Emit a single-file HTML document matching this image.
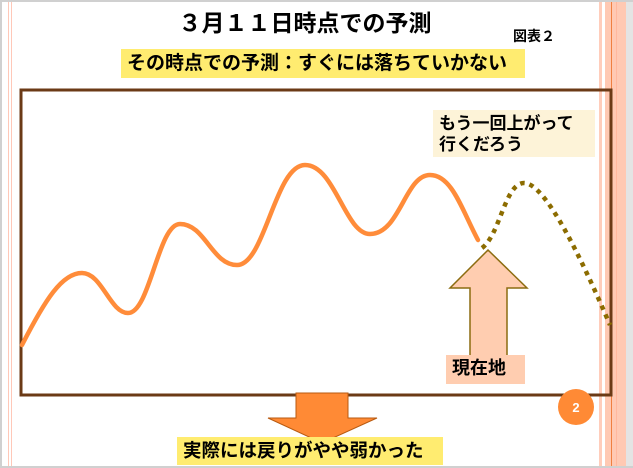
<!DOCTYPE html>
<html><head><meta charset="utf-8"><style>
body{margin:0;width:633px;height:468px;overflow:hidden;background:#fff;position:relative;font-family:"Liberation Sans","Noto Sans CJK JP",sans-serif;}
.a{position:absolute;white-space:nowrap;}
</style></head><body>
<div class="a" style="left:0;top:0;width:633px;height:2px;background:#d0d0d0"></div>
<div class="a" style="left:0;top:466px;width:633px;height:2px;background:#d0d0d0"></div>
<div class="a" style="left:0;top:0;width:2px;height:468px;background:#d0d0d0"></div>
<div class="a" style="left:8px;top:2px;width:1px;height:464px;background:#ffc8b8"></div>
<div class="a" style="left:11px;top:2px;width:1px;height:464px;background:#ffc8b8"></div>
<div class="a" style="left:599px;top:2px;width:3px;height:464px;background:#ffcdbb"></div>
<div class="a" style="left:605px;top:2px;width:21px;height:464px;background:#ffc9b3"></div>
<div class="a" style="left:611px;top:2px;width:1px;height:464px;background:#f08040"></div>
<div class="a" style="left:616px;top:2px;width:1px;height:464px;background:#ffb89e"></div>
<div class="a" style="left:626px;top:2px;width:7px;height:464px;background:#e4e4e4"></div>

<div class="a" style="left:130px;top:8px;width:350px;text-align:center;font-size:23px;font-weight:bold;line-height:30px">３月１１日時点での予測</div>
<div class="a" style="left:513px;top:26px;font-size:14px;font-weight:bold">図表２</div>
<div class="a" style="left:121px;top:49px;width:404px;height:29px;background:#ffec70;font-size:19px;font-weight:bold;line-height:29px;padding-left:6px;box-sizing:border-box">その時点での予測：すぐには落ちていかない</div>
<div class="a" style="left:433px;top:110px;width:162px;height:47px;background:#fdf3d8;font-size:17px;font-weight:bold;line-height:21px;padding:3px 0 0 6px;box-sizing:border-box">もう一回上がって<br>行くだろう</div>

<svg class="a" style="left:0;top:0" width="633" height="468">
<rect x="21" y="90" width="590" height="305" fill="none" stroke="#6b3a16" stroke-width="3"/>
<path d="M22,345 C45,300 62,273 82,273 C102,273 110,313 128,313 C150,313 158,224 180,224 C205,224 212,265 237,265 C265,265 275,165 305,165 C335,165 345,234 370,234 C400,234 405,175 430,175 C452,175 462,210 478,240" fill="none" stroke="#ff8c3a" stroke-width="4.5" stroke-linecap="round"/>
<path d="M482,248 C500,235 505,183 524,183 C545,183 580,255 610,325" fill="none" stroke="#8c6c00" stroke-width="4.5" stroke-dasharray="4.5,5"/>
<polygon points="488,250 527,288 507,288 507,357 470,357 470,288 450,288" fill="#ffcdb0" stroke="#8c6c10" stroke-width="1.5"/>
<polygon points="296,393 348,393 348,418 377,418 322,443 268,418 296,418" fill="#ff8a35" stroke="#b85a10" stroke-width="1"/>
<circle cx="576" cy="407" r="18" fill="#ff8a35"/>
<text x="576" y="412" font-size="13" font-weight="bold" fill="#fff" text-anchor="middle" font-family="Liberation Sans,sans-serif">2</text>
</svg>
<div class="a" style="left:446px;top:355px;width:79px;height:29px;background:#ffcdb0;font-size:18px;font-weight:bold;line-height:27px;padding-left:6px;box-sizing:border-box">現在地</div>
<div class="a" style="left:177px;top:437px;width:266px;height:28px;background:#ffec70;font-size:18.5px;font-weight:bold;line-height:28px;padding-left:6px;box-sizing:border-box">実際には戻りがやや弱かった</div>
</body></html>
